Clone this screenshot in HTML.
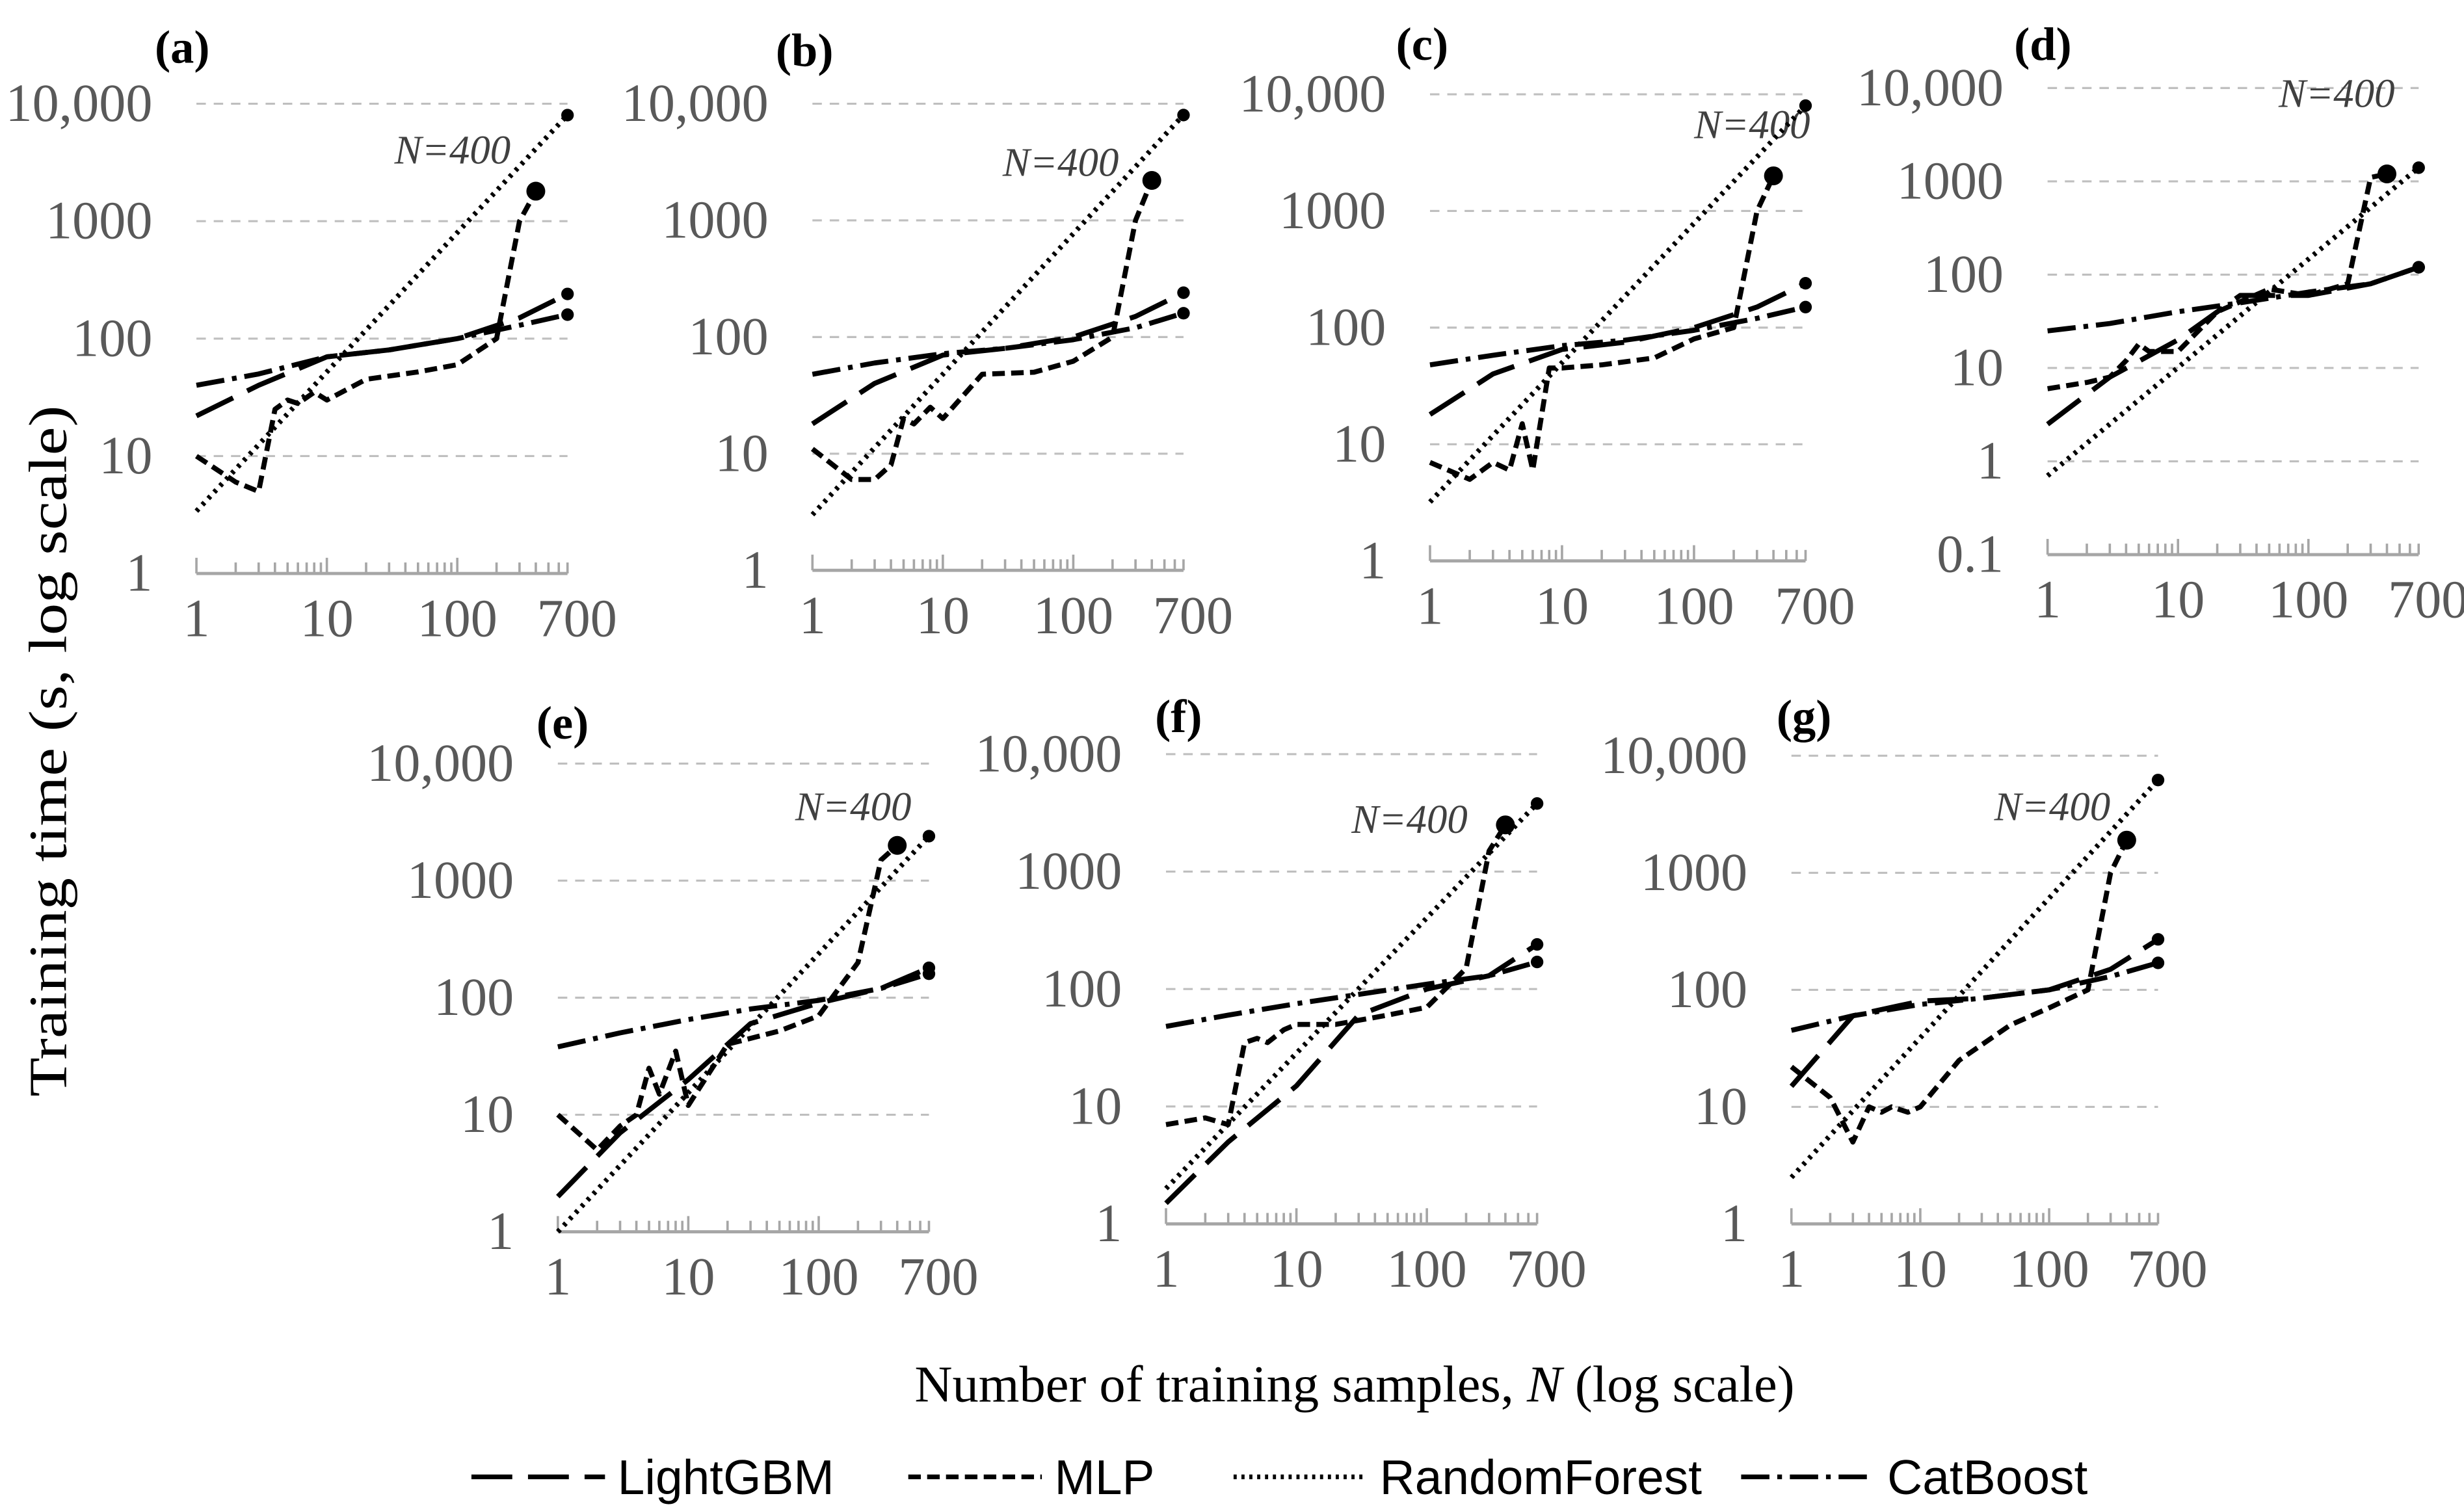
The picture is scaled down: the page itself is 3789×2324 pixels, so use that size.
<!DOCTYPE html>
<html><head><meta charset="utf-8"><style>
html,body{margin:0;padding:0;background:#fff;}
svg{display:block;}
</style></head><body>
<svg id="chart" xmlns="http://www.w3.org/2000/svg" width="3789" height="2324" viewBox="0 0 1568 961.7">
<g id="panels"></g>
<text x="0" y="0" transform="translate(42,478) rotate(-90)" text-anchor="middle" font-family="Liberation Serif, serif" font-size="34" textLength="440" lengthAdjust="spacingAndGlyphs" fill="#000">Training time (s, log scale)</text>
<text x="862" y="892" text-anchor="middle" font-family="Liberation Serif, serif" font-size="33" textLength="560" lengthAdjust="spacingAndGlyphs" fill="#000">Number of training samples, <tspan font-style="italic">N</tspan> (log scale)</text>
<g font-family="Liberation Sans, sans-serif" font-size="31" fill="#000">
  <g><line x1="300" y1="940" x2="385" y2="940" stroke="#000" stroke-width="3" stroke-dasharray="26 10"/><text x="393" y="951">LightGBM</text></g>
  <g><line x1="578" y1="940" x2="663" y2="940" stroke="#000" stroke-width="3" stroke-dasharray="8 4"/><text x="671" y="951">MLP</text></g>
  <g><line x1="785" y1="940" x2="870" y2="940" stroke="#000" stroke-width="3" stroke-dasharray="2 3"/><text x="878" y="951">RandomForest</text></g>
  <g><line x1="1108" y1="940" x2="1193" y2="940" stroke="#000" stroke-width="3" stroke-dasharray="18 5 3 5"/><text x="1201" y="951">CatBoost</text></g>
</g>
</svg>
<script>
// shared sample sizes
const nTree = [1, 3, 10, 30, 100, 300, 700];
const nMlp = [1, 2, 3, 4, 5, 6, 8, 10, 20, 50, 100, 200, 300, 400];
const nRf = [1, 700];
const panelLabels = ['(a)','(b)','(c)','(d)','(e)','(f)','(g)'];
const xTickLabels = ['1','10','100','700'];
const xTickValues = [1, 10, 100, 700];
// panel (a)
const aLgb = [22, 40, 70, 80, 100, 150, 240];
const aCat = [40, 50, 70, 80, 100, 130, 160];
const aMlp = [10, 6, 5, 25, 30, 28, 35, 30, 45, 52, 60, 100, 1000, 1800];
const aRf = [3.4, 8000];
// panel (b)
const bLgb = [18, 40, 70, 80, 100, 150, 240];
const bCat = [48, 60, 72, 80, 95, 120, 160];
const bMlp = [11, 6, 6, 8, 20, 18, 25, 20, 48, 50, 62, 100, 1000, 2200];
const bRf = [3, 8000];
// panel (c)
const cLgb = [18, 40, 65, 75, 100, 150, 240];
const cCat = [48, 58, 70, 78, 95, 120, 150];
const cMlp = [7, 5, 7, 6, 15, 6, 45, 45, 48, 55, 80, 100, 1000, 2000];
const cRf = [3.2, 8000];
// panel (d)
const dLgb = [2.5, 8, 20, 60, 60, 80, 120];
const dCat = [25, 30, 40, 50, 65, 80, 120];
const dMlp = [6, 7, 8, 12, 18, 15, 15, 15, 40, 70, 60, 80, 1100, 1200];
const dRf = [0.7, 1400];
// panel (e)
const eLgb = [2, 7, 20, 60, 90, 120, 180];
const eCat = [38, 50, 65, 80, 95, 120, 160];
const eMlp = [10, 5, 8, 10, 25, 15, 35, 12, 40, 52, 70, 200, 1500, 2000];
const eRf = [1, 2400];
// panel (f)
const fLgb = [1.5, 5, 15, 60, 100, 130, 240];
const fCat = [48, 60, 75, 90, 110, 130, 170];
const fMlp = [7, 8, 7, 35, 38, 35, 45, 50, 50, 60, 70, 150, 1500, 2500];
const fRf = [2, 3800];
// panel (g)
const gLgb = [15, 60, 80, 85, 100, 150, 270];
const gCat = [45, 60, 75, 85, 100, 130, 170];
const gMlp = [22, 12, 5, 10, 9, 10, 9, 10, 25, 50, 70, 100, 1000, 1900];
const gRf = [2.5, 6200];

const lgbSeries = [aLgb, bLgb, cLgb, dLgb, eLgb, fLgb, gLgb];
const catSeries = [aCat, bCat, cCat, dCat, eCat, fCat, gCat];
const mlpSeries = [aMlp, bMlp, cMlp, dMlp, eMlp, fMlp, gMlp];
const rfSeries = [aRf, bRf, cRf, dRf, eRf, fRf, gRf];

// layout (pixel geometry, not data)
const layout = [
  {x1:125, xDec:83, yTop:66, yBot:365, minExp:0, lab:[116,30], nlab:[288,104]},
  {x1:517, xDec:83, yTop:66, yBot:363, minExp:0, lab:[512,32], nlab:[675,112]},
  {x1:910, xDec:84, yTop:60, yBot:357, minExp:0, lab:[905,28], nlab:[1115,88]},
  {x1:1303, xDec:83, yTop:56, yBot:353, minExp:-1, lab:[1300,28], nlab:[1487,68]},
  {x1:355, xDec:83, yTop:486, yBot:784, minExp:0, lab:[358,460], nlab:[543,522]},
  {x1:742, xDec:83, yTop:480, yBot:779, minExp:0, lab:[750,456], nlab:[897,530]},
  {x1:1140, xDec:82, yTop:481, yBot:779, minExp:0, lab:[1148,456], nlab:[1306,522]}
];
const NS = 'http://www.w3.org/2000/svg';
function mk(tag, attrs, parent){const e=document.createElementNS(NS,tag);for(const k in attrs)e.setAttribute(k,attrs[k]);parent.appendChild(e);return e;}
const root = document.getElementById('panels');
const yTickVals = [0.1, 1, 10, 100, 1000, 10000];
const yTickText = ['0.1','1','10','100','1000','10,000'];

layout.forEach((L, i) => {
  const g = mk('g', {}, root);
  
  
  const decY = (L.yBot - L.yTop) / (4 - L.minExp);
  const xs = v => L.x1 + Math.log10(v) * L.xDec;
  const ys = v => L.yBot - (Math.log10(v) - L.minExp) * decY;
  const xEnd = xs(700);
  yTickVals.forEach((v, k) => {
    const e = Math.log10(v);
    if (e < L.minExp - 1e-9) return;
    if (e > L.minExp + 1e-9) {
      const gl = mk('line', {x1:L.x1, x2:xEnd, y1:ys(v), y2:ys(v), stroke:'#bfbfbf', 'stroke-width':1.3, 'stroke-dasharray':'6 5'}, g);
      
      
    }
    const t = mk('text', {x:L.x1 - 28, y:ys(v) + 11, 'text-anchor':'end', 'font-family':'Liberation Serif, serif', 'font-size':34, fill:'#595959'}, g);
    t.textContent = yTickText[k];
    
    
  });
  const ax = mk('line', {x1:L.x1, x2:xEnd, y1:L.yBot, y2:L.yBot, stroke:'#a6a6a6', 'stroke-width':2}, g);
  
  
  for (let d = 1; d <= 100; d *= 10) {
    for (let m = 1; m <= 9; m++) {
      const v = d * m;
      if (v > 700) break;
      const h = m === 1 ? 10 : 7;
      const tk = mk('line', {x1:xs(v), x2:xs(v), y1:L.yBot, y2:L.yBot - h, stroke:'#a6a6a6', 'stroke-width':1.5}, g);
      
      
    }
  }
  xTickValues.forEach((v, k) => {
    const t = mk('text', {x:xs(v) + (k === 3 ? 6 : 0), y:L.yBot + 40, 'text-anchor':'middle', 'font-family':'Liberation Serif, serif', 'font-size':34, fill:'#595959'}, g);
    t.textContent = xTickLabels[k];
    
    
  });
  const pl = mk('text', {x:L.lab[0], y:L.lab[1] + 10, 'text-anchor':'middle', 'font-family':'Liberation Serif, serif', 'font-size':30, 'font-weight':'bold', fill:'#000'}, g);
  pl.textContent = panelLabels[i];
  
  
  const nl = mk('text', {x:L.nlab[0], y:L.nlab[1], 'text-anchor':'middle', 'font-family':'Liberation Serif, serif', 'font-size':26, 'font-style':'italic', fill:'#404040'}, g);
  nl.textContent = 'N=400';
  
  
  const drawSeries = (ns, vals, dash, name, dotR) => {
    const pts = ns.map((n, k) => xs(n).toFixed(1) + ',' + ys(vals[k]).toFixed(1)).join(' ');
    const p = mk('polyline', {points:pts, fill:'none', stroke:'#000', 'stroke-width':3.2, 'stroke-dasharray':dash, 'stroke-linejoin':'round'}, g);
    
    
    const last = ns.length - 1;
    const c = mk('circle', {cx:xs(ns[last]), cy:ys(vals[last]), r:dotR, fill:'#000'}, g);
    
    
  };
  drawSeries(nRf, rfSeries[i], '2 3.5', 'randomforest', 4);
  drawSeries(nTree, lgbSeries[i], '26 10', 'lightgbm', 4);
  drawSeries(nTree, catSeries[i], '18 5 3 5', 'catboost', 4);
  drawSeries(nMlp, mlpSeries[i], '8 4', 'mlp', 6);
});
</script>
</body></html>
